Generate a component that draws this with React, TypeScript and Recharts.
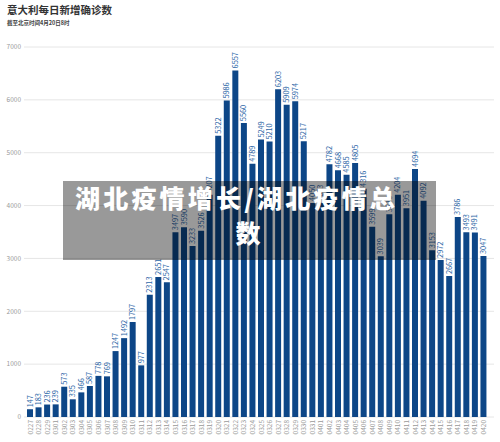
import React from "react";
import { BarChart, Bar, XAxis, YAxis, CartesianGrid, LabelList } from "recharts";

const dates = [
  "0227", "0228", "0229",
  "0301", "0302", "0303", "0304", "0305", "0306", "0307", "0308", "0309", "0310",
  "0311", "0312", "0313", "0314", "0315", "0316", "0317", "0318", "0319", "0320",
  "0321", "0322", "0323", "0324", "0325", "0326", "0327", "0328", "0329", "0330", "0331",
  "0401", "0402", "0403", "0404", "0405", "0406", "0407", "0408", "0409", "0410",
  "0411", "0412", "0413", "0414", "0415", "0416", "0417", "0418", "0419", "0420",
];

const newCases = [
  147, 183, 236,
  239, 573, 335, 466, 587, 778, 769, 1247, 1492, 1797,
  977, 2313, 2651, 2547, 3497, 3590, 3233, 3526, 4207,
  5322, 5986, 6557, 5560, 4789, 5249, 5210, 6203, 5909, 5974, 5217,
  4050, 4053, 4782, 4668, 4585, 4805, 4316, 3599, 3039, 3836,
  4204, 3951, 4694, 4092, 3153, 2972, 2667, 3786, 3493, 3491, 3047,
];

const yTicks = [0, 1000, 2000, 3000, 4000, 5000, 6000, 7000];

const data = dates.map((d, i) => ({ date: d, value: newCases[i] }));

const FONT = '"Noto Sans CJK SC", "Noto Sans", sans-serif';

const DateTick = ({ x, y, payload }: any) => (
  <g transform={`translate(${x},${y})`}>
    <text
      transform="rotate(-90)"
      textAnchor="end"
      dy="0.35em"
      fontSize={6.5}
      fill="#9a9a9a"
      fontFamily={FONT}
    >
      {payload.value}
    </text>
  </g>
);

const ValueLabel = ({ x, y, width, value }: any) => {
  const cx = x + width / 2;
  const ty = y - 2;
  return (
    <text
      x={cx}
      y={ty}
      transform={`rotate(-90, ${cx}, ${ty})`}
      textAnchor="start"
      dy="0.35em"
      fontSize={7.3}
      fill="#2e67a7"
      fontFamily={FONT}
    >
      {value}
    </text>
  );
};

const overlayText = {
  position: "absolute" as const,
  color: "#fff",
  fontSize: 25,
  fontWeight: 900,
  letterSpacing: 3.2,
  lineHeight: "30px",
  whiteSpace: "nowrap" as const,
};

export default function App() {
  return (
    <div
      style={{
        position: "absolute",
        left: 0,
        top: 0,
        width: 500,
        height: 442,
        background: "#fff",
        fontFamily: FONT,
        overflow: "hidden",
      }}
    >
      <div
        style={{
          position: "absolute",
          left: 7,
          top: 3,
          fontSize: 10.5,
          fontWeight: 700,
          color: "#333",
          lineHeight: "14px",
        }}
      >
        意大利每日新增确诊数
      </div>
      <div
        style={{
          position: "absolute",
          left: 7,
          top: 19,
          fontSize: 5.5,
          fontWeight: 700,
          color: "#444",
          lineHeight: "8px",
        }}
      >
        截至北京时间4月20日8时
      </div>

      <BarChart
        width={500}
        height={442}
        data={data}
        margin={{ top: 47, right: 6, bottom: 0, left: 0 }}
        barSize={6}
      >
        <CartesianGrid vertical={false} stroke="#e6e6e6" />
        <XAxis
          dataKey="date"
          interval={0}
          height={25}
          tickLine={false}
          axisLine={false}
          tickSize={3}
          tickMargin={0}
          padding={{ left: 2, right: 6 }}
          tick={<DateTick />}
        />
        <YAxis
          width={24}
          domain={[0, 7000]}
          ticks={yTicks}
          tickLine={false}
          axisLine={false}
          tickSize={3}
          tickMargin={0}
          tick={{ fontSize: 6.5, fill: "#9a9a9a", fontFamily: FONT }}
        />
        <Bar dataKey="value" fill="#0d4687" isAnimationActive={false}>
          <LabelList dataKey="value" content={<ValueLabel />} />
        </Bar>
      </BarChart>

      <div
        style={{
          position: "absolute",
          left: 63,
          top: 181,
          width: 373,
          height: 79,
          background: "rgba(0,0,0,0.4)",
        }}
      >
        <div style={{ ...overlayText, left: 12, top: 1 }}>湖北疫情增长/湖北疫情总</div>
        <div style={{ ...overlayText, left: 0, right: 0, top: 36, textAlign: "center" }}>数</div>
      </div>
    </div>
  );
}
